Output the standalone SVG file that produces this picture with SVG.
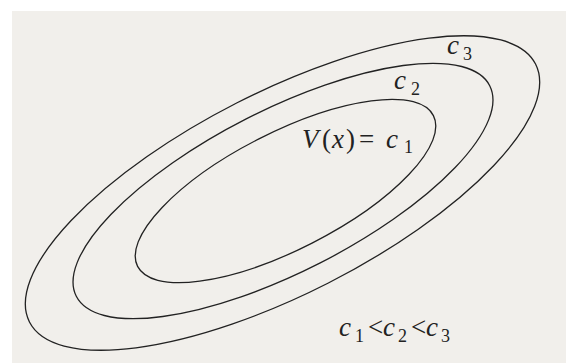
<svg xmlns="http://www.w3.org/2000/svg" width="566" height="363" viewBox="0 0 566 363">
<style>
.bg{fill:#f1efeb}
.curve{fill:none;stroke:#222222;stroke-width:1.3}
.t{font-family:"Liberation Serif","Times New Roman",serif;fill:#222222;font-size:27px}
.i{font-style:italic}
.s{font-size:18px}
</style>
<rect x="0" y="0" width="566" height="363" fill="#ffffff"/>
<rect class="bg" x="12" y="11" width="554" height="352"/>
<g id="level-c3">
<ellipse class="curve" cx="282.5" cy="193" rx="284" ry="101" transform="rotate(-27 282.5 193)"/>
<text class="t"><tspan class="i" x="447" y="54">c</tspan><tspan class="s" x="463" y="60">3</tspan></text>
</g>
<g id="level-c2">
<ellipse class="curve" cx="283" cy="191" rx="232" ry="81" transform="rotate(-27 283 191)"/>
<text class="t"><tspan class="i" x="394" y="89">c</tspan><tspan class="s" x="411" y="95">2</tspan></text>
</g>
<g id="level-c1">
<ellipse class="curve" cx="285.5" cy="191" rx="166" ry="58.5" transform="rotate(-27 285.5 191)"/>
<text class="t"><tspan class="i" x="302" y="148">V</tspan><tspan x="322" y="148">(</tspan><tspan class="i" x="332" y="148">x</tspan><tspan x="346" y="148">)</tspan><tspan x="359" y="148">=</tspan><tspan class="i" x="386" y="148">c</tspan><tspan class="s" x="404" y="153">1</tspan></text>
</g>
<g id="relation">
<text class="t"><tspan class="i" x="339" y="336">c</tspan><tspan class="s" x="355" y="342">1</tspan><tspan x="368" y="336">&lt;</tspan><tspan class="i" x="383" y="336">c</tspan><tspan class="s" x="398" y="342">2</tspan><tspan x="411" y="336">&lt;</tspan><tspan class="i" x="426" y="336">c</tspan><tspan class="s" x="441" y="342">3</tspan></text>
</g>
</svg>
